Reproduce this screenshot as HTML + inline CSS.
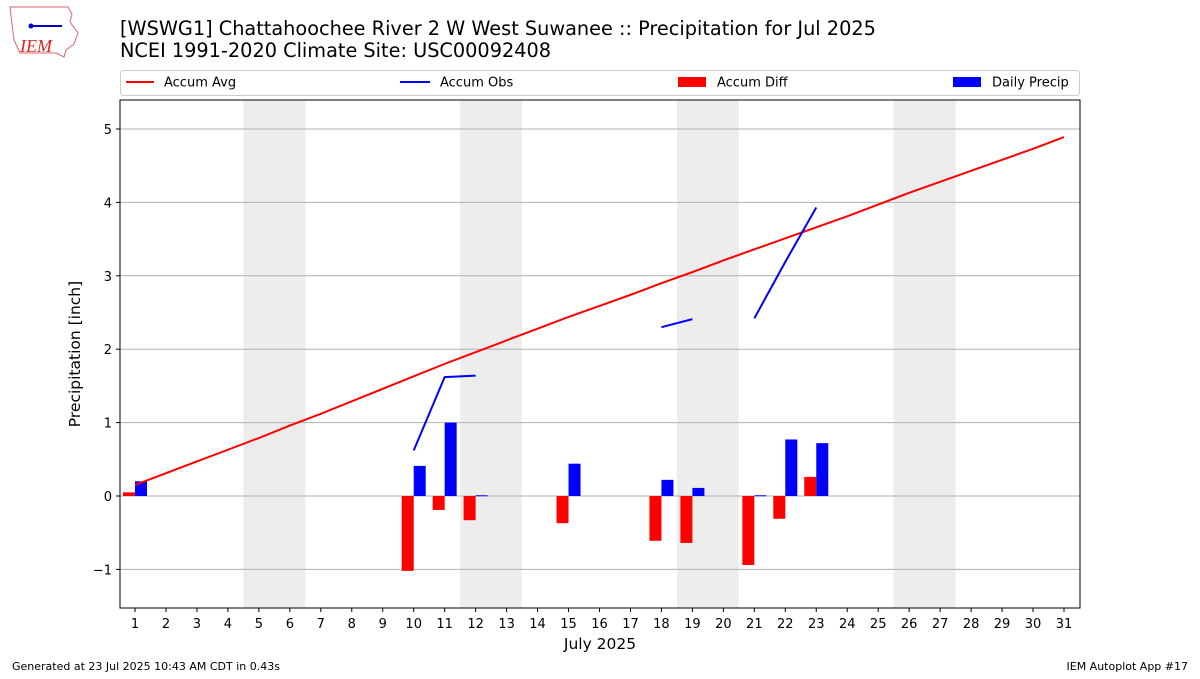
<!DOCTYPE html>
<html><head><meta charset="utf-8"><style>
body{margin:0;background:#fff;font-family:"DejaVu Sans","Liberation Sans",sans-serif}
svg text{font-family:"DejaVu Sans","Liberation Sans",sans-serif}
</style></head><body>
<svg id="c" width="1200" height="675" xmlns="http://www.w3.org/2000/svg">
<g>
<path d="M10 7 L68 7 L72 14 L70 22 L78 33 L74 44 L66 50 L64 57 L56 53 L20 53 L14 40 L12 24 Z" fill="none" stroke="#d66" stroke-width="1"/>
<line x1="30" y1="26" x2="62" y2="26" stroke="#00c" stroke-width="2"/>
<circle cx="31" cy="26" r="2.5" fill="#00c"/>
<text x="20" y="52" font-size="18" fill="#d22" font-style="italic" style="font-family:'Liberation Serif',serif">IEM</text>
</g>
<text x="120" y="35" font-size="19.3">[WSWG1] Chattahoochee River 2 W West Suwanee :: Precipitation for Jul 2025</text>
<text x="120" y="57" font-size="19.3">NCEI 1991-2020 Climate Site: USC00092408</text>
<g>
<rect x="120.5" y="70.5" width="959" height="25" rx="3" fill="#fff" stroke="#ccc"/>
<g><line x1="126" y1="82" x2="154" y2="82" stroke="red" stroke-width="2"/><text x="164" y="86.5" font-size="13">Accum Avg</text></g>
<g><line x1="400" y1="82" x2="430" y2="82" stroke="blue" stroke-width="2"/><text x="440" y="86.5" font-size="13">Accum Obs</text></g>
<g><rect x="678" y="77" width="28" height="10" fill="red"/><text x="717" y="86.5" font-size="13">Accum Diff</text></g>
<g><rect x="953" y="77" width="28" height="10" fill="blue"/><text x="992" y="86.5" font-size="13">Daily Precip</text></g>
</g>
<g id="plot"></g>
<text x="12" y="670" font-size="11">Generated at 23 Jul 2025 10:43 AM CDT in 0.43s</text>
<text x="1188" y="670" font-size="11" text-anchor="end">IEM Autoplot App #17</text>
</svg>
<script>
const days=[1,2,3,4,5,6,7,8,9,10,11,12,13,14,15,16,17,18,19,20,21,22,23,24,25,26,27,28,29,30,31];
const accumAvg=[0.15,0.31,0.47,0.63,0.79,0.96,1.12,1.29,1.46,1.63,1.80,1.96,2.12,2.28,2.44,2.59,2.74,2.90,3.05,3.21,3.36,3.51,3.66,3.81,3.97,4.13,4.28,4.43,4.58,4.73,4.89];
const obsSegments=[[[10,0.62],[11,1.62],[12,1.64]],[[18,2.30],[19,2.41]],[[21,2.42],[22,3.19],[23,3.93]]];
const precipDays=[1,10,11,12,15,18,19,21,22,23];
const precipVals=[0.20,0.41,1.00,0.01,0.44,0.22,0.11,0.01,0.77,0.72];
const diffVals=[0.05,-1.02,-0.19,-0.33,-0.37,-0.61,-0.64,-0.94,-0.31,0.26];
const weekends=[5,12,19,26];
const yTicks=[-1,0,1,2,3,4,5];
const yTickLabels=["\u22121","0","1","2","3","4","5"];
const L=120,R=1080,T=100,B=608,ymin=-1.526,ymax=5.395;
const X=d=>135+(d-1)*(929/30);
const Y=v=>B-(v-ymin)/(ymax-ymin)*(B-T);
const NS="http://www.w3.org/2000/svg",g=document.getElementById('plot');
function mk(t,a){const e=document.createElementNS(NS,t);for(const k in a)e.setAttribute(k,a[k]);g.appendChild(e);return e;}
weekends.forEach(d=>{const e=mk('rect',{x:X(d-0.5),y:T,width:X(d+1.5)-X(d-0.5),height:B-T,fill:'#ededed'});

});
yTicks.forEach((v,i)=>{const l=mk('line',{x1:L,x2:R,y1:Y(v),y2:Y(v),stroke:'#b0b0b0'});


mk('line',{x1:L-4,x2:L,y1:Y(v),y2:Y(v),stroke:'#000'});
const t=mk('text',{x:L-8,y:Y(v)+5,'font-size':13,'text-anchor':'end'});t.textContent=yTickLabels[i];

});
const bw=12;
precipDays.forEach((d,i)=>{const v=diffVals[i];
const r=mk('rect',{x:X(d)-bw,y:Y(Math.max(v,0)),width:bw,height:Math.abs(Y(v)-Y(0)),fill:'red'});


const p=precipVals[i];
const b=mk('rect',{x:X(d),y:Y(p),width:bw,height:Math.max(Y(0)-Y(p),1),fill:'blue'});

});
const avg=mk('polyline',{points:days.map((d,i)=>X(d)+','+Y(accumAvg[i])).join(' '),fill:'none',stroke:'red','stroke-width':2});


obsSegments.forEach(s=>{const o=mk('polyline',{points:s.map(p=>X(p[0])+','+Y(p[1])).join(' '),fill:'none',stroke:'blue','stroke-width':2});

});
const fr=mk('rect',{x:L,y:T,width:R-L,height:B-T,fill:'none',stroke:'#000'});


days.forEach(d=>{mk('line',{x1:X(d),x2:X(d),y1:B,y2:B+4,stroke:'#000'});
const t=mk('text',{x:X(d),y:B+20,'font-size':13,'text-anchor':'middle'});t.textContent=d;

});
const xt=mk('text',{x:600,y:649,'font-size':15.5,'text-anchor':'middle'});xt.textContent='July 2025';


const yt=mk('text',{x:80,y:354,'font-size':15.5,'text-anchor':'middle',transform:'rotate(-90 80 354)'});yt.textContent='Precipitation [inch]';


</script>
</body></html>
